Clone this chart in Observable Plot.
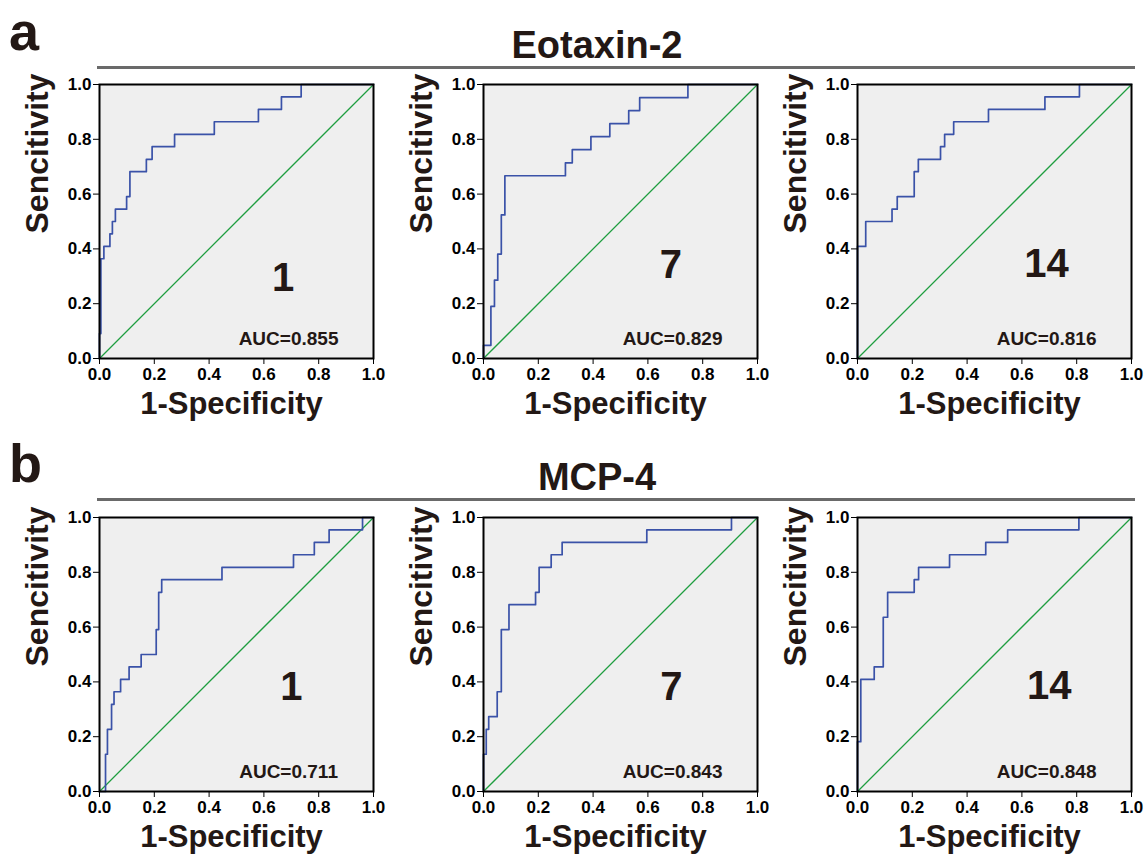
<!DOCTYPE html>
<html><head><meta charset="utf-8">
<script src="https://cdn.jsdelivr.net/npm/d3@7"></script>
<script src="https://cdn.jsdelivr.net/npm/@observablehq/plot@0.6"></script>
<style>
body{margin:0;background:#fff;}
#root{position:relative;width:1147px;height:855px;overflow:hidden;font-family:"Liberation Sans",Arial,sans-serif;color:#231815;background:#fff;}
.panel{position:absolute;}
.letter{position:absolute;font-size:54px;font-weight:bold;line-height:54px;}
.title{position:absolute;font-size:38px;font-weight:bold;line-height:38px;width:400px;text-align:center;}
.rule{position:absolute;height:3px;background:#6a6a6a;}
</style></head>
<body><div id="root"></div>
<script>
// ---- data ----
const panelLetters = ["a", "b"];
const markers = ["Eotaxin-2", "MCP-4"];
const days = ["1", "7", "14"];
const aucLabels = [["AUC=0.855", "AUC=0.829", "AUC=0.816"], ["AUC=0.711", "AUC=0.843", "AUC=0.848"]];
const tickValues = [0, 0.2, 0.4, 0.6, 0.8, 1.0];
const xAxisLabel = "1-Specificity";
const yAxisLabel = "Sencitivity";
const diagonalX = [0, 1];
const diagonalY = [0, 1];

// Eotaxin-2 ROC points (1-specificity, sensitivity)
const eotDay1Fpr  = [0, 0, 0.005, 0.016, 0.038, 0.047, 0.058, 0.099, 0.111, 0.171, 0.192, 0.274, 0.419, 0.580, 0.664, 0.736, 1];
const eotDay1Tpr  = [0, 0.091, 0.364, 0.409, 0.455, 0.500, 0.545, 0.591, 0.682, 0.727, 0.773, 0.818, 0.864, 0.909, 0.955, 1, 1];
const eotDay7Fpr  = [0, 0, 0.027, 0.040, 0.052, 0.065, 0.078, 0.299, 0.324, 0.392, 0.461, 0.530, 0.570, 0.746, 1];
const eotDay7Tpr  = [0, 0.048, 0.190, 0.286, 0.381, 0.524, 0.667, 0.714, 0.762, 0.810, 0.857, 0.905, 0.952, 1, 1];
const eotDay14Fpr = [0, 0, 0.030, 0.126, 0.145, 0.207, 0.222, 0.303, 0.318, 0.351, 0.478, 0.684, 0.810, 1];
const eotDay14Tpr = [0, 0.409, 0.500, 0.545, 0.591, 0.682, 0.727, 0.773, 0.818, 0.864, 0.909, 0.955, 1, 1];
// MCP-4 ROC points
const mcpDay1Fpr  = [0, 0.022, 0.022, 0.029, 0.044, 0.053, 0.077, 0.108, 0.152, 0.207, 0.216, 0.227, 0.447, 0.708, 0.784, 0.838, 0.960, 1];
const mcpDay1Tpr  = [0, 0, 0.136, 0.227, 0.318, 0.364, 0.409, 0.455, 0.500, 0.591, 0.727, 0.773, 0.818, 0.864, 0.909, 0.955, 1, 1];
const mcpDay7Fpr  = [0, 0, 0.010, 0.019, 0.050, 0.065, 0.093, 0.190, 0.203, 0.247, 0.287, 0.596, 0.905, 1];
const mcpDay7Tpr  = [0, 0.136, 0.227, 0.273, 0.364, 0.591, 0.682, 0.727, 0.818, 0.864, 0.909, 0.955, 1, 1];
const mcpDay14Fpr = [0, 0, 0.012, 0.061, 0.094, 0.110, 0.207, 0.223, 0.336, 0.468, 0.548, 0.808, 1];
const mcpDay14Tpr = [0, 0.182, 0.409, 0.455, 0.636, 0.727, 0.773, 0.818, 0.864, 0.909, 0.955, 1, 1];

const curves = [
  [[eotDay1Fpr, eotDay1Tpr], [eotDay7Fpr, eotDay7Tpr], [eotDay14Fpr, eotDay14Tpr]],
  [[mcpDay1Fpr, mcpDay1Tpr], [mcpDay7Fpr, mcpDay7Tpr], [mcpDay14Fpr, mcpDay14Tpr]]
];

// ---- layout ----
const ink = "#231815";
const panelLeft = [19, 403, 777];
const panelTop = [72, 505];
const dayPos = [[[0.67, 0.293], [0.684, 0.339], [0.69, 0.344]], [[0.70, 0.38], [0.686, 0.38], [0.70, 0.383]]];
const aucPos = [0.69, 0.07];
const M = {left: 80, right: 16, top: 12, bottom: 74};
const plotW = 274, plotH = 274;

const root = document.getElementById("root");
function addDiv(cls, text, style) {
  const d = document.createElement("div");
  d.className = cls;
  if (text) d.textContent = text;
  Object.assign(d.style, style);
  root.appendChild(d);
}
addDiv("letter", panelLetters[0], {left: "9px", top: "4px"});
addDiv("letter", panelLetters[1], {left: "9px", top: "436px"});
addDiv("title", markers[0], {left: "397px", top: "26px"});
addDiv("title", markers[1], {left: "397px", top: "458px"});
addDiv("rule", "", {left: "97px", top: "66px", width: "1038px"});
addDiv("rule", "", {left: "97px", top: "498px", width: "1038px"});

for (let r = 0; r < 2; r++) {
  for (let c = 0; c < 3; c++) {
    const [fpr, tpr] = curves[r][c];
    const pts = fpr.map((x, i) => ({x, y: tpr[i]}));
    const diag = diagonalX.map((x, i) => ({x, y: diagonalY[i]}));
    const chart = Plot.plot({
      width: M.left + plotW + M.right,
      height: M.top + plotH + M.bottom,
      marginLeft: M.left, marginRight: M.right, marginTop: M.top, marginBottom: M.bottom,
      style: {fontFamily: '"Liberation Sans", Arial, sans-serif', fontWeight: "bold", color: ink, background: "transparent", overflow: "visible"},
      x: {domain: [0, 1]},
      y: {domain: [0, 1]},
      marks: [
        Plot.frame({fill: "#efefef", stroke: null}),
        Plot.line(diag, {x: "x", y: "y", stroke: "#1f9e40", strokeWidth: 1.3}),
        Plot.line(pts, {x: "x", y: "y", curve: "step-after", stroke: "#3a52a8", strokeWidth: 1.7}),
        Plot.frame({stroke: "#000", strokeWidth: 2}),
        Plot.axisX({ticks: tickValues, tickFormat: d3.format(".1f"), tickSize: 6, tickPadding: 3, fontSize: 17, fontWeight: "bold", color: "#000", label: null}),
        Plot.axisY({ticks: tickValues, tickFormat: d3.format(".1f"), tickSize: 6, tickPadding: 2, fontSize: 17, fontWeight: "bold", color: "#000", label: null}),
        Plot.text([days[c]], {x: () => dayPos[r][c][0], y: () => dayPos[r][c][1], text: d => d, fontSize: 40, fontWeight: "bold", fill: ink}),
        Plot.text([aucLabels[r][c]], {x: () => aucPos[0], y: () => aucPos[1], text: d => d, fontSize: 19, fontWeight: "bold", fill: ink}),
        Plot.text([xAxisLabel], {frameAnchor: "bottom", text: d => d, dy: 55, dx: -5, fontSize: 31, fontWeight: "bold", fill: ink}),
        Plot.text([yAxisLabel], {frameAnchor: "left", text: d => d, dx: -62, dy: 12, rotate: -90, fontSize: 32, fontWeight: "bold", fill: ink})
      ]
    });
    chart.classList.add("panel");
    chart.style.left = panelLeft[c] + "px";
    chart.style.top = panelTop[r] + "px";
    chart.style.position = "absolute";
    root.appendChild(chart);
  }
}
</script>
</body></html>
